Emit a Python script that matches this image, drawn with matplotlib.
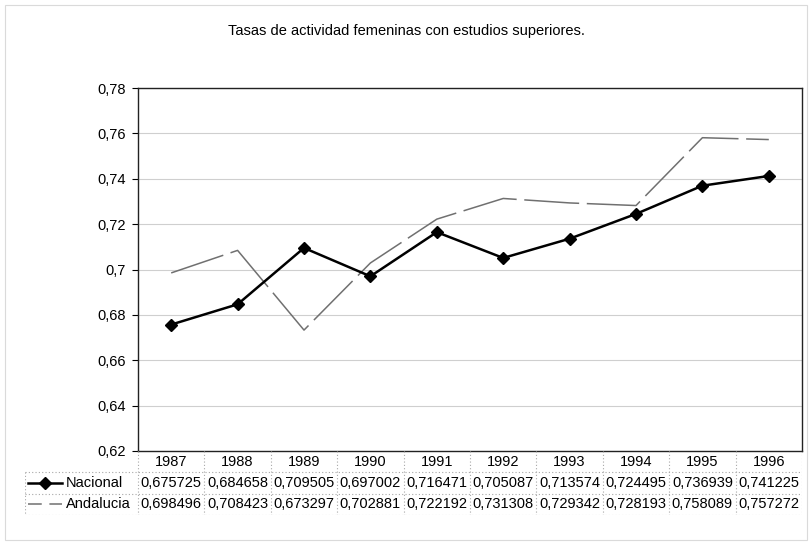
#!/usr/bin/env python3
"""Tasas de actividad femeninas con estudios superiores (Nacional vs Andalucia)."""

import matplotlib
matplotlib.use("Agg")
import matplotlib.pyplot as plt
from matplotlib.ticker import FuncFormatter

YEARS = [1987, 1988, 1989, 1990, 1991, 1992, 1993, 1994, 1995, 1996]
NACIONAL = [0.675725, 0.684658, 0.709505, 0.697002, 0.716471,
            0.705087, 0.713574, 0.724495, 0.736939, 0.741225]
ANDALUCIA = [0.698496, 0.708423, 0.673297, 0.702881, 0.722192,
             0.731308, 0.729342, 0.728193, 0.758089, 0.757272]
Y_TICKS = [0.62, 0.64, 0.66, 0.68, 0.70, 0.72, 0.74, 0.76, 0.78]
TITLE = "Tasas de actividad femeninas con estudios superiores."

plt.rcParams["font.family"] = ["Liberation Sans", "DejaVu Sans"]
FS = 10.5

W, H = 812, 544
fig = plt.figure(figsize=(W / 100, H / 100), dpi=100)

# light frame round the whole chart
fig.patches.append(plt.Rectangle((5 / W, 4 / H), 802 / W, 535 / H, transform=fig.transFigure,
                                 fill=False, ec="#dadada", lw=0.8))

fig.text(406 / W, 1 - 31 / H, TITLE, ha="center", va="center", fontsize=FS)

left, right = 138, 802
top, bottom = 88, 451
ax = fig.add_axes([left / W, 1 - bottom / H, (right - left) / W, (bottom - top) / H])
xs = list(range(len(YEARS)))
ax.plot(xs, ANDALUCIA, color="#707070", lw=1.1, dashes=(36, 5), zorder=2)
ax.plot(xs, NACIONAL, color="black", lw=1.8, marker="D", ms=6.5, zorder=3)

ax.set_xlim(-0.5, len(YEARS) - 0.5)
ax.set_ylim(0.62, 0.78)
ax.set_yticks(Y_TICKS)
ax.yaxis.set_major_formatter(FuncFormatter(lambda v, _: f"{v:.2f}".rstrip("0").replace(".", ",")))
ax.tick_params(axis="y", labelsize=FS, direction="out", length=4, width=0.8, pad=5)
ax.set_xticks([])
ax.grid(axis="y", color="#cfcfcf", lw=0.8)
ax.set_axisbelow(True)
for s in ax.spines.values():
    s.set_color("#222222")
    s.set_linewidth(1.0)

# data table below the plot
tleft = 25
tax = fig.add_axes([tleft / W, 1 - 515 / H, (right - tleft) / W, (515 - bottom) / H])
col_w = (right - left) / len(YEARS)
x0 = -0.5 - (left - tleft) / col_w
tax.set_xlim(x0, len(YEARS) - 0.5)
tax.set_ylim(3, 0)
tax.axis("off")

grid_kw = dict(color="#a8a8a8", lw=0.8, ls=(0, (1, 2)))
for k in range(len(YEARS) + 1):
    tax.plot([k - 0.5, k - 0.5], [0, 3], **grid_kw)
tax.plot([x0, x0], [1, 3], **grid_kw)
for r in (1, 2, 3):
    tax.plot([x0, len(YEARS) - 0.5], [r, r], **grid_kw)

for i, yr in enumerate(YEARS):
    tax.text(i, 0.5, str(yr), ha="center", va="center", fontsize=FS)
    tax.text(i, 1.5, f"{NACIONAL[i]:.6f}".replace(".", ","), ha="center", va="center", fontsize=FS)
    tax.text(i, 2.5, f"{ANDALUCIA[i]:.6f}".replace(".", ","), ha="center", va="center", fontsize=FS)

px = lambda p: (p - left) / col_w - 0.5
tax.plot([px(28), px(62)], [1.5, 1.5], color="black", lw=1.8)
tax.plot([px(45)], [1.5], color="black", marker="D", ms=6.5)
tax.plot([px(28), px(62)], [2.5, 2.5], color="#707070", lw=1.1, dashes=(9, 5))
tax.text(px(66), 1.5, "Nacional", ha="left", va="center", fontsize=FS)
tax.text(px(66), 2.5, "Andalucia", ha="left", va="center", fontsize=FS)

fig.savefig("out.png", dpi=100)
